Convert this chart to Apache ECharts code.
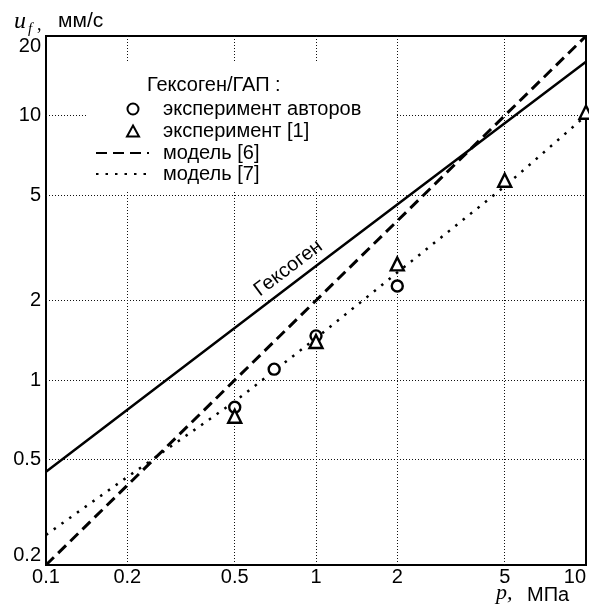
<!DOCTYPE html>
<html>
<head>
<meta charset="utf-8">
<script src="https://cdn.jsdelivr.net/npm/echarts@6/dist/echarts.min.js"></script>
<style>
  html, body { margin: 0; padding: 0; background: #fff; }
  #chart { width: 589px; height: 608px; }
</style>
</head>
<body>
<div id="chart"></div>
<script>
// оси (логарифмические)
const xTicks = [0.1, 0.2, 0.5, 1, 2, 5, 10];
const yTicks = [0.2, 0.5, 1, 2, 5, 10, 20];
const xGrid = [0.2, 0.5, 1, 2, 5];
const yGrid = [0.5, 1, 2, 5, 10];

// Гексоген (сплошная)
const hmxP = [0.1, 1, 10];
const hmxU = [0.45, 2.7, 16];

// эксперимент авторов
const authorsP = [0.5, 0.7, 1, 2];
const authorsU = [0.79, 1.1, 1.47, 2.27];

// эксперимент [1]
const ref1P = [0.5, 1, 2, 5, 10];
const ref1U = [0.73, 1.4, 2.75, 5.7, 10.3];

// модель [6]
const model6P = [0.1, 10];
const model6U = [0.2, 20];

// модель [7]
const model7P = [0.1, 0.2, 0.5, 1, 2, 5, 10];
const model7U = [0.26, 0.43, 0.83, 1.44, 2.55, 5.4, 10];

const pairs = (xs, ys) => xs.map((x, i) => [x, ys[i]]);

const FONT = 'Liberation Sans';
const gridStyle = { color: '#111', width: 1, type: [1, 2] };
const legendText = { fontFamily: FONT, fontSize: 20, color: '#000', lineHeight: 22 };
const markerStyle = { color: '#fff', borderColor: '#000', borderWidth: 2.4, opacity: 1 };

const chart = echarts.init(document.getElementById('chart'));

chart.setOption({
  animation: false,
  grid: {
    left: 46, right: 3, top: 36, bottom: 43,
    show: true, borderColor: '#000', borderWidth: 2,
    backgroundColor: 'transparent'
  },
  title: {
    text: 'Гексоген/ГАП :',
    left: 147, top: 75, padding: 0,
    textStyle: { fontFamily: FONT, fontSize: 20, fontWeight: 'normal', color: '#000' }
  },
  legend: [
    {
      // маркеры + белый фон всего блока
      orient: 'vertical',
      left: 88, top: 63,
      padding: [35, 35, 48, 38],
      backgroundColor: '#fff',
      itemWidth: 12, itemHeight: 11, itemGap: 0,
      selectedMode: false,
      symbolKeepAspect: true,
      data: ['эксперимент авторов', 'эксперимент [1]'],
      textStyle: Object.assign({ padding: [0, 0, 0, 19] }, legendText)
    },
    {
      orient: 'vertical',
      left: 95, top: 142,
      padding: 0,
      itemWidth: 53, itemHeight: 10, itemGap: -1,
      selectedMode: false,
      itemStyle: { opacity: 0 },
      data: ['модель [6]', 'модель [7]'],
      textStyle: Object.assign({ padding: [0, 0, 0, 9] }, legendText)
    }
  ],
  xAxis: {
    type: 'log', logBase: 10, min: 0.1, max: 10,
    axisLine: { show: false },
    axisTick: { show: false },
    splitLine: { show: false },
    axisLabel: {
      customValues: xTicks,
      formatter: v => String(v),
      fontFamily: FONT, fontSize: 20, color: '#000', margin: 2,
      alignMaxLabel: 'right'
    }
  },
  yAxis: {
    type: 'log', logBase: 10, min: 0.2, max: 20,
    axisLine: { show: false },
    axisTick: { show: false },
    splitLine: { show: false },
    axisLabel: {
      customValues: yTicks,
      formatter: v => String(v),
      fontFamily: FONT, fontSize: 20, color: '#000', margin: 5,
      verticalAlignMinLabel: 'bottom',
      verticalAlignMaxLabel: 'top'
    }
  },
  graphic: [
    { type: 'text', left: 14, top: 10, style: { text: 'u', font: 'italic 24px "Liberation Serif"', fill: '#000' } },
    { type: 'text', left: 28, top: 22, style: { text: 'f', font: 'italic 15px "Liberation Serif"', fill: '#000' } },
    { type: 'text', left: 37, top: 16, style: { text: ',', font: '18px "Liberation Serif"', fill: '#000' } },
    { type: 'text', left: 58, top: 11, style: { text: 'мм/с', font: '21px "Liberation Sans"', fill: '#000' } },
    { type: 'text', left: 496, top: 582, style: { text: 'p,', font: 'italic 22px "Liberation Serif"', fill: '#000' } },
    { type: 'text', left: 527, top: 585, style: { text: 'МПа', font: '20px "Liberation Sans"', fill: '#000' } }
  ],
  series: [
    {
      // сетка
      name: 'grid',
      type: 'line',
      data: [],
      silent: true,
      z: 1,
      markLine: {
        silent: true,
        z: 1,
        symbol: 'none',
        label: { show: false },
        lineStyle: gridStyle,
        data: xGrid.map(v => ({ xAxis: v })).concat(yGrid.map(v => ({ yAxis: v })))
      }
    },
    {
      name: 'Гексоген',
      type: 'line',
      data: pairs(hmxP, hmxU),
      symbol: 'none',
      lineStyle: { color: '#000', width: 2.5 },
      markPoint: {
        symbol: 'circle', symbolSize: 0,
        label: {
          show: true, position: 'inside', rotate: 37,
          formatter: 'Гексоген',
          fontFamily: FONT, fontSize: 20, color: '#000'
        },
        data: [{ coord: [0.79, 2.65] }]
      }
    },
    {
      name: 'модель [6]',
      type: 'line',
      data: pairs(model6P, model6U),
      symbol: 'none',
      lineStyle: { color: '#000', width: 3, type: [11, 6] },
      itemStyle: { color: '#000' }
    },
    {
      name: 'модель [7]',
      type: 'line',
      data: pairs(model7P, model7U),
      symbol: 'none',
      lineStyle: { color: '#000', width: 2.5, type: [2.5, 7] },
      itemStyle: { color: '#000' }
    },
    {
      name: 'эксперимент авторов',
      type: 'scatter',
      data: pairs(authorsP, authorsU),
      symbol: 'circle', symbolSize: 11,
      itemStyle: markerStyle,
      z: 5
    },
    {
      name: 'эксперимент [1]',
      type: 'scatter',
      data: pairs(ref1P, ref1U),
      symbol: 'triangle', symbolSize: 13,
      itemStyle: markerStyle,
      z: 5
    }
  ]
});
</script>
</body>
</html>
